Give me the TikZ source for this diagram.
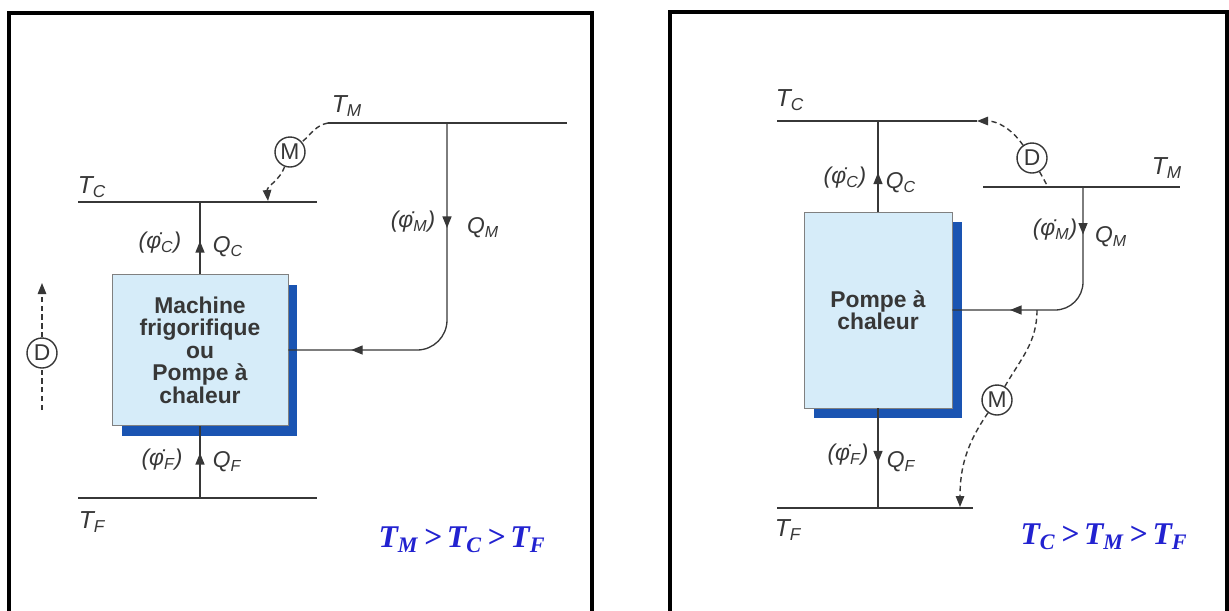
\documentclass[tikz,border=0pt]{standalone}
\usepackage{fontspec}
\setmainfont{Liberation Sans}
\newfontfamily\relfont{Liberation Serif}
\usetikzlibrary{arrows.meta,decorations.markings,shadows}
\definecolor{ink}{RGB}{55,55,55}
\definecolor{boxfill}{RGB}{214,236,249}
\definecolor{boxshade}{RGB}{26,84,178}
\definecolor{relblue}{RGB}{34,34,208}
\tikzset{
  frame/.style={black,line width=2.3pt},
  level/.style={ink,line width=1.3pt},
  flow/.style={ink,line width=0.75pt},
  dashline/.style={ink,line width=0.8pt,dash pattern=on 3pt off 2pt},
  tip/.style={-{Triangle[length=2.2mm,width=1.7mm]}},
  arrowat/.style={postaction={decorate},decoration={markings,
    mark=at position #1 with {\arrow{Triangle[length=2.3mm,width=1.8mm]}}}},
  arrowsat/.style 2 args={postaction={decorate},decoration={markings,
    mark=at position #1 with {\arrow{Triangle[length=2.3mm,width=1.8mm]}},
    mark=at position #2 with {\arrow{Triangle[length=2.3mm,width=1.8mm]}}}},
  machine/.style={draw=gray,fill=boxfill,line width=0.5pt,align=center,
    text=ink,font=\fontsize{13}{12.8}\selectfont\bfseries,
    drop shadow={shadow xshift=0.19cm,shadow yshift=-0.2cm,fill=boxshade,opacity=1}},
  tlab/.style={text=ink,font=\fontsize{14}{14}\selectfont\itshape,inner sep=0pt},
  qlab/.style={text=ink,font=\fontsize{13}{13}\selectfont\itshape,inner sep=0pt},
  circ/.style={draw=ink,circle,line width=0.8pt,minimum size=0.6cm,inner sep=0pt,
    text=ink,font=\fontsize{13}{13}\selectfont},
  rel/.style={text=relblue,font=\fontsize{18}{18}\relfont\bfseries\itshape,inner sep=0pt}
}
\begin{document}
\begin{tikzpicture}[x=0.02cm,y=-0.02cm]
\useasboundingbox (0,0) rectangle (1229,610);
\begin{scope}
\draw[frame] (9,13) rectangle (592,614);
\coordinate (tmL1) at (328,123);
\coordinate (tmL2) at (567,123);
\coordinate (tcL1) at (78,202);
\coordinate (tcL2) at (317,202);
\coordinate (tfL1) at (78,498);
\coordinate (tfL2) at (317,498);
\draw[level] (tmL1) -- (tmL2);
\draw[level] (tcL1) -- (tcL2);
\draw[level] (tfL1) -- (tfL2);
\node[tlab] (tmLlab) at (347,106) {T\textsubscript{M}};
\node[tlab] (tcLlab) at (92,187) {T\textsubscript{C}};
\node[tlab] (tfLlab) at (92,522) {T\textsubscript{F}};
\node[machine,minimum width=3.52cm,minimum height=3.02cm] (boxL) at (200,350)
  {Machine\\frigorifique\\ou\\Pompe à\\chaleur};
\draw[flow,arrowat=0.66cm] (boxL.north) -- (boxL.north |- tcL1);
\draw[flow,arrowat=0.9cm] (boxL.south |- tfL1) -- (boxL.south);
\coordinate (qmL) at (447,123);
\coordinate (cmL) at (447,350);
\draw[flow,rounded corners=0.6cm,arrowsat={2.1cm}{6.2cm}] (qmL) -- (cmL) -- (boxL.east);
\node[qlab] (fcL) at (160,243) {(\.{φ}\textsubscript{C})};
\node[qlab] (qcL) at (228,247) {Q\textsubscript{C}};
\node[qlab] (fmL) at (413,222) {(\.{φ}\textsubscript{M})};
\node[qlab] (qmLlab) at (483,228) {Q\textsubscript{M}};
\node[qlab] (ffL) at (162,460) {(\.{φ}\textsubscript{F})};
\node[qlab] (qfL) at (227,462) {Q\textsubscript{F}};
\node[circ] (mL) at (290,152) {M};
\coordinate (mLt) at (268,201);
\draw[dashline] (tmL1) to[out=190,in=40] (mL);
\draw[dashline,tip] (mL) to[out=250,in=95] (mLt);
\node[circ] (dL) at (42,353) {D};
\coordinate (dLb) at (42,410);
\coordinate (dLt) at (42,283);
\draw[dashline] (dLb) -- (dL);
\draw[dashline,tip] (dL) -- (dLt);
\node[rel] (relL) at (462,540) {T\textsubscript{M}\,>\,T\textsubscript{C}\,>\,T\textsubscript{F}};
\end{scope}
\begin{scope}
\draw[frame] (670,12) rectangle (1227,614);
\coordinate (tcR1) at (777,121);
\coordinate (tcR2) at (977,121);
\coordinate (tmR1) at (983,187);
\coordinate (tmR2) at (1180,187);
\coordinate (tfR1) at (777,508);
\coordinate (tfR2) at (973,508);
\draw[level] (tcR1) -- (tcR2);
\draw[level] (tmR1) -- (tmR2);
\draw[level] (tfR1) -- (tfR2);
\node[tlab] (tcRlab) at (790,100) {T\textsubscript{C}};
\node[tlab] (tmRlab) at (1167,168) {T\textsubscript{M}};
\node[tlab] (tfRlab) at (788,530) {T\textsubscript{F}};
\node[machine,minimum width=2.96cm,minimum height=3.92cm] (boxR) at (878,310)
  {Pompe à\\chaleur};
\draw[flow,arrowat=0.78cm] (boxR.north) -- (boxR.north |- tcR1);
\draw[flow,arrowat=1.08cm] (boxR.south) -- (boxR.south |- tfR1);
\coordinate (qmR) at (1083,187);
\coordinate (cmR) at (1083,310);
\draw[flow,rounded corners=0.56cm,arrowsat={0.95cm}{3.68cm}] (qmR) -- (cmR) -- (boxR.east);
\node[qlab] (fcR) at (845,178) {(\.{φ}\textsubscript{C})};
\node[qlab] (qcR) at (901,183) {Q\textsubscript{C}};
\node[qlab] (fmR) at (1055,230) {(\.{φ}\textsubscript{M})};
\node[qlab] (qmRlab) at (1111,237) {Q\textsubscript{M}};
\node[qlab] (ffR) at (848,455) {(\.{φ}\textsubscript{F})};
\node[qlab] (qfR) at (901,462) {Q\textsubscript{F}};
\node[circ] (dR) at (1032,158) {D};
\coordinate (dRb) at (1048,187);
\draw[dashline,tip] (dR) to[out=125,in=0] (tcR2);
\draw[dashline] (dR) -- (dRb);
\node[circ] (mR) at (997,400) {M};
\coordinate (mRa) at (1037,310);
\coordinate (mRb) at (960,507);
\draw[dashline] (mRa) to[out=-90,in=60] (mR);
\draw[dashline,tip] (mR) to[out=235,in=90] (mRb);
\node[rel] (relR) at (1104,537) {T\textsubscript{C}\,>\,T\textsubscript{M}\,>\,T\textsubscript{F}};
\end{scope}
\end{tikzpicture}
\end{document}
